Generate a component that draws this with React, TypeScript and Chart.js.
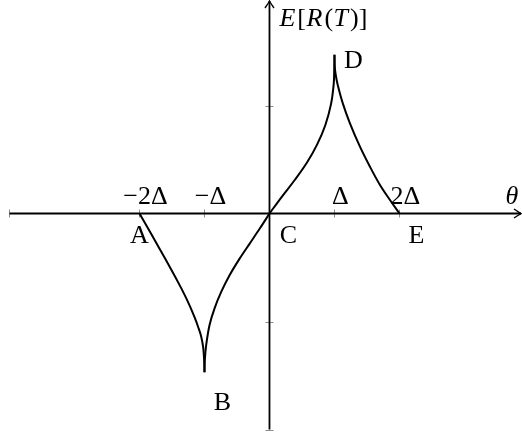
import React, { useEffect, useRef } from "react";
import { Chart, registerables } from "chart.js";

Chart.register(...registerables);

// ---- data (theta in units of Delta, E[R(T)] in axis units) ----
const segABx = [-2.0, -1.81, -1.608, -1.403, -1.3, -1.223, -1.15, -1.095, -1.05, -1.02, -1.006, -1.0];
const segABy = [0, -0.199, -0.415, -0.64, -0.76, -0.86, -0.965, -1.055, -1.14, -1.24, -1.35, -1.47];

const segBCx = [-1.0, -0.994, -0.974, -0.922, -0.845, -0.741, -0.612, -0.457, -0.302, -0.147, 0];
const segBCy = [-1.47, -1.35, -1.218, -1.032, -0.878, -0.724, -0.569, -0.415, -0.276, -0.137, 0];

const segCDx = [0, 0.189, 0.395, 0.577, 0.732, 0.86, 0.949, 0.989, 0.996, 1.0];
const segCDy = [0, 0.155, 0.315, 0.472, 0.638, 0.82, 1.02, 1.205, 1.33, 1.47];

const segDEx = [1.0, 1.006, 1.02, 1.05, 1.128, 1.238, 1.392, 1.546, 1.7, 1.854, 2.0];
const segDEy = [1.47, 1.35, 1.28, 1.19, 1.02, 0.835, 0.619, 0.433, 0.264, 0.125, 0];

const xTickValues = [-4, -2, -1, 1, 2];
const yTickValues = [1, -1, -2];
const xLabelValues = [-2, -1, 1, 2];
const xLabelTexts = ["\u22122\u0394", "\u2212\u0394", "\u0394", "2\u0394"];
const pointNames = ["A", "B", "C", "D", "E"];
const pointXs = [-2, -1, 0, 1, 2];
const pointYs = [0, -1.47, 0, 1.47, 0];

const X_MIN = -4.146;
const X_MAX = 3.885;
const Y_MIN = -2.06;
const Y_MAX = 1.977;
const X_AXIS_START = -4;
const Y_AXIS_START = -2;

const FONT = '26px "Liberation Serif", "Times New Roman", serif';
const IFONT = 'italic 26px "Liberation Serif", "Times New Roman", serif';

// label offsets (px) relative to the named point
const pointOffsets: Record<string, [number, number]> = {
  A: [0, 29],
  B: [18, 38],
  C: [19, 29],
  D: [19, 13],
  E: [17, 29],
};

function zip(xs: number[], ys: number[]) {
  return xs.map((x, i) => ({ x, y: ys[i] }));
}

function drawArrowHead(ctx: CanvasRenderingContext2D, tx: number, ty: number, angle: number) {
  ctx.save();
  ctx.translate(tx, ty);
  ctx.rotate(angle);
  ctx.beginPath();
  ctx.moveTo(-7, -4.5);
  ctx.quadraticCurveTo(-2, -1, 0, 0);
  ctx.quadraticCurveTo(-2, 1, -7, 4.5);
  ctx.lineWidth = 1.4;
  ctx.strokeStyle = "#000";
  ctx.stroke();
  ctx.restore();
}

const axesPlugin = {
  id: "axesPlugin",
  beforeDatasetsDraw(chart: any) {
    const ctx: CanvasRenderingContext2D = chart.ctx;
    const xs = chart.scales.x;
    const ys = chart.scales.y;
    const x0 = xs.getPixelForValue(0);
    const y0 = ys.getPixelForValue(0);
    ctx.save();
    ctx.strokeStyle = "#8c8c8c";
    ctx.lineWidth = 1;
    for (const v of xTickValues) {
      const px = Math.round(xs.getPixelForValue(v)) + 0.5;
      ctx.beginPath();
      ctx.moveTo(px, y0 - 4);
      ctx.lineTo(px, y0 + 4);
      ctx.stroke();
    }
    for (const v of yTickValues) {
      const py = Math.round(ys.getPixelForValue(v)) + 0.5;
      ctx.beginPath();
      ctx.moveTo(x0 - 4, py);
      ctx.lineTo(x0 + 4, py);
      ctx.stroke();
    }
    ctx.strokeStyle = "#000";
    ctx.lineWidth = 1.8;
    const xl = xs.getPixelForValue(X_AXIS_START);
    const xr = xs.getPixelForValue(X_MAX) - 1;
    ctx.beginPath();
    ctx.moveTo(xl, y0);
    ctx.lineTo(xr, y0);
    ctx.stroke();
    const yb = ys.getPixelForValue(Y_AXIS_START);
    const yt = ys.getPixelForValue(Y_MAX) + 1;
    ctx.beginPath();
    ctx.moveTo(x0, yb);
    ctx.lineTo(x0, yt);
    ctx.stroke();
    drawArrowHead(ctx, xr, y0, 0);
    drawArrowHead(ctx, x0, yt, -Math.PI / 2);
    ctx.restore();
  },
  afterDraw(chart: any) {
    const ctx: CanvasRenderingContext2D = chart.ctx;
    const xs = chart.scales.x;
    const ys = chart.scales.y;
    const x0 = xs.getPixelForValue(0);
    const y0 = ys.getPixelForValue(0);
    ctx.save();
    ctx.fillStyle = "#000";
    ctx.textBaseline = "alphabetic";
    ctx.textAlign = "center";
    ctx.font = FONT;
    xLabelValues.forEach((v, i) => {
      ctx.fillText(xLabelTexts[i], xs.getPixelForValue(v) + 6, y0 - 10);
    });
    pointNames.forEach((n, i) => {
      const [dx, dy] = pointOffsets[n];
      ctx.fillText(n, xs.getPixelForValue(pointXs[i]) + dx, ys.getPixelForValue(pointYs[i]) + dy);
    });
    ctx.font = IFONT;
    ctx.fillText("\u03B8", xs.getPixelForValue(X_MAX) - 10, y0 - 10);
    ctx.textAlign = "left";
    const parts: [string, boolean][] = [
      ["E", true],
      ["[", false],
      ["R", true],
      ["(", false],
      ["T", true],
      [")]", false],
    ];
    let cx = x0 + 10;
    const by = ys.getPixelForValue(Y_MAX) + 26;
    for (const [t, it] of parts) {
      ctx.font = it ? IFONT : FONT;
      ctx.fillText(t, cx, by);
      cx += ctx.measureText(t).width + (it ? 2 : 0.5);
    }
    ctx.restore();
  },
};

export default function App() {
  const ref = useRef<HTMLCanvasElement | null>(null);
  useEffect(() => {
    if (!ref.current) return;
    const ds = (xs: number[], ys: number[]) => ({
      data: zip(xs, ys),
      showLine: true,
      borderColor: "#000",
      borderWidth: 2,
      pointRadius: 0,
      fill: false,
      tension: 0.35,
    });
    const chart = new Chart(ref.current, {
      type: "scatter",
      data: {
        datasets: [ds(segABx, segABy), ds(segBCx, segBCy), ds(segCDx, segCDy), ds(segDEx, segDEy)],
      },
      options: {
        animation: false,
        responsive: false,
        devicePixelRatio: 1,
        layout: { padding: 0 },
        plugins: { legend: { display: false }, tooltip: { enabled: false }, title: { display: false } },
        scales: {
          x: { type: "linear", min: X_MIN, max: X_MAX, display: false },
          y: { type: "linear", min: Y_MIN, max: Y_MAX, display: false },
        },
      },
      plugins: [axesPlugin],
    });
    return () => chart.destroy();
  }, []);
  return (
    <div style={{ position: "fixed", left: 0, top: 0, width: 522, height: 436, background: "#fff" }}>
      <canvas ref={ref} width={522} height={436} />
    </div>
  );
}
